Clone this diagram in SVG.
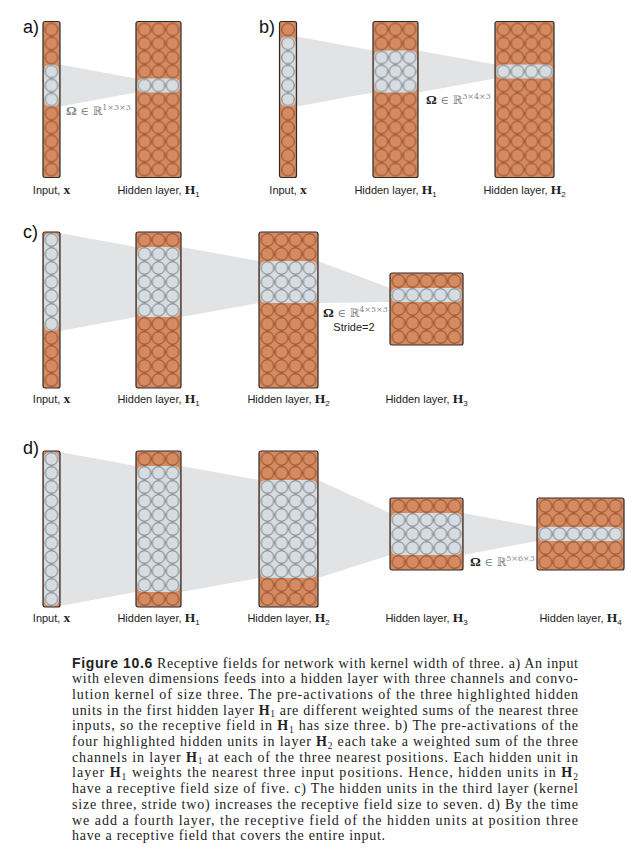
<svg xmlns="http://www.w3.org/2000/svg" width="643" height="862" viewBox="0 0 643 862">
<defs>
<pattern id="oc" x="1.5" y="1" width="14" height="14" patternUnits="userSpaceOnUse"><circle cx="7" cy="7" r="6.3" fill="#d68a60" stroke="#7a3b1c" stroke-width="0.85"/></pattern>
<pattern id="gc" x="1.5" y="1" width="14" height="14" patternUnits="userSpaceOnUse"><circle cx="7" cy="7" r="6.3" fill="#d6dce0" stroke="#5d666b" stroke-width="0.85"/></pattern>
<style>
.box{fill:#d68a60;stroke:#2b2b2b;stroke-width:1.2}
.band{fill:#d6dce0}
.cone{fill:#e1e3e4}
.lbl{font-family:"Liberation Sans",Arial,sans-serif;font-size:11px;fill:#222;text-anchor:middle}
.mb{font-family:"Liberation Serif","Times New Roman",serif;font-weight:bold;font-size:13.5px}
.pl{font-family:"Liberation Sans",Arial,sans-serif;font-size:18px;fill:#111}
.om{font-family:"DejaVu Serif","DejaVu Sans",serif;font-size:11.5px;fill:#888}
.cap{font-family:"Liberation Serif","Times New Roman",serif;font-size:14px;fill:#222}
.capb{font-family:"Liberation Serif","Times New Roman",serif;font-weight:bold}
.fig{font-family:"Liberation Sans",Arial,sans-serif;font-weight:bold}
</style>
</defs>

<g id="connectors">
<polygon class="cone" points="60,64.5 136,78.5 136,92.5 60,106.5"/>
<polygon class="cone" points="296.5,36.5 373,50.5 373,92.5 296.5,106.5"/>
<polygon class="cone" points="418,50.5 495,64.5 495,78.5 418,92.5"/>
<polygon class="cone" points="60,233 136,247 136,317 60,331"/>
<polygon class="cone" points="181,247 259,261 259,303 181,317"/>
<polygon class="cone" points="318,261 390,288 390,302 318,303"/>
<polygon class="cone" points="60,452 136,466 136,592 60,606"/>
<polygon class="cone" points="181,466 259,480 259,578 181,592"/>
<polygon class="cone" points="318,480 390,513 390,555 318,578"/>
<polygon class="cone" points="463,513 537,527 537,541 463,555"/>
</g>

<!-- Panel a -->
<text class="pl" x="23" y="33">a)</text>
<g id="a-input" transform="translate(43,21.5)">
<rect class="box" width="17" height="156" rx="2"/>
<rect x="1.5" y="1" width="14" height="154" fill="url(#oc)"/>
<rect class="band" x="1" y="43" width="15" height="42" rx="6"/>
<rect x="1.5" y="43" width="14" height="42" fill="url(#gc)"/>
</g>
<g id="a-h1" transform="translate(136,21.5)">
<rect class="box" width="45" height="156" rx="2"/>
<rect x="1.5" y="1" width="42" height="154" fill="url(#oc)"/>
<rect class="band" x="1" y="57" width="43" height="14" rx="6"/>
<rect x="1.5" y="57" width="42" height="14" fill="url(#gc)"/>
</g>
<text class="om" x="66" y="115"><tspan class="mb" font-size="12">Ω</tspan> ∈ ℝ<tspan font-size="8" dy="-5">1×3×3</tspan></text>
<text class="lbl" x="51.5" y="194">Input, <tspan class="mb">x</tspan></text>
<text class="lbl" x="158.5" y="194">Hidden layer, <tspan class="mb">H</tspan><tspan font-size="8" dy="2.5">1</tspan></text>

<!-- Panel b -->
<text class="pl" x="259" y="33">b)</text>
<g id="b-input" transform="translate(279.5,21.5)">
<rect class="box" width="17" height="156" rx="2"/>
<rect x="1.5" y="1" width="14" height="154" fill="url(#oc)"/>
<rect class="band" x="1" y="15" width="15" height="70" rx="6"/>
<rect x="1.5" y="15" width="14" height="70" fill="url(#gc)"/>
</g>
<g id="b-h1" transform="translate(373,21.5)">
<rect class="box" width="45" height="156" rx="2"/>
<rect x="1.5" y="1" width="42" height="154" fill="url(#oc)"/>
<rect class="band" x="1" y="29" width="43" height="42" rx="6"/>
<rect x="1.5" y="29" width="42" height="42" fill="url(#gc)"/>
</g>
<g id="b-h2" transform="translate(495,21.5)">
<rect class="box" width="59" height="156" rx="2"/>
<rect x="1.5" y="1" width="56" height="154" fill="url(#oc)"/>
<rect class="band" x="1" y="43" width="57" height="14" rx="6"/>
<rect x="1.5" y="43" width="56" height="14" fill="url(#gc)"/>
</g>
<text class="om" x="426" y="104"><tspan class="mb" font-size="12" fill="#222">Ω</tspan> ∈ ℝ<tspan font-size="8" dy="-5">3×4×3</tspan></text>
<text class="lbl" x="288" y="194">Input, <tspan class="mb">x</tspan></text>
<text class="lbl" x="395.5" y="194">Hidden layer, <tspan class="mb">H</tspan><tspan font-size="8" dy="2.5">1</tspan></text>
<text class="lbl" x="524.5" y="194">Hidden layer, <tspan class="mb">H</tspan><tspan font-size="8" dy="2.5">2</tspan></text>

<!-- Panel c -->
<text class="pl" x="23" y="238">c)</text>
<g id="c-input" transform="translate(43,232)">
<rect class="box" width="17" height="156" rx="2"/>
<rect x="1.5" y="1" width="14" height="154" fill="url(#oc)"/>
<rect class="band" x="1" y="1" width="15" height="98" rx="6"/>
<rect x="1.5" y="1" width="14" height="98" fill="url(#gc)"/>
</g>
<g id="c-h1" transform="translate(136,232)">
<rect class="box" width="45" height="156" rx="2"/>
<rect x="1.5" y="1" width="42" height="154" fill="url(#oc)"/>
<rect class="band" x="1" y="15" width="43" height="70" rx="6"/>
<rect x="1.5" y="15" width="42" height="70" fill="url(#gc)"/>
</g>
<g id="c-h2" transform="translate(259,232)">
<rect class="box" width="59" height="156" rx="2"/>
<rect x="1.5" y="1" width="56" height="154" fill="url(#oc)"/>
<rect class="band" x="1" y="29" width="57" height="42" rx="6"/>
<rect x="1.5" y="29" width="56" height="42" fill="url(#gc)"/>
</g>
<g id="c-h3" transform="translate(390,273)">
<rect class="box" width="73" height="72" rx="2"/>
<rect x="1.5" y="1" width="70" height="70" fill="url(#oc)"/>
<rect class="band" x="1" y="15" width="71" height="14" rx="6"/>
<rect x="1.5" y="15" width="70" height="14" fill="url(#gc)"/>
</g>
<text class="om" x="323" y="317"><tspan class="mb" font-size="12" fill="#222">Ω</tspan> ∈ ℝ<tspan font-size="8" dy="-5">4×5×3</tspan></text>
<text class="lbl" x="354" y="331">Stride=2</text>
<text class="lbl" x="51.5" y="403">Input, <tspan class="mb">x</tspan></text>
<text class="lbl" x="158.5" y="403">Hidden layer, <tspan class="mb">H</tspan><tspan font-size="8" dy="2.5">1</tspan></text>
<text class="lbl" x="288.5" y="403">Hidden layer, <tspan class="mb">H</tspan><tspan font-size="8" dy="2.5">2</tspan></text>
<text class="lbl" x="426.5" y="403">Hidden layer, <tspan class="mb">H</tspan><tspan font-size="8" dy="2.5">3</tspan></text>

<!-- Panel d -->
<text class="pl" x="23" y="454">d)</text>
<g id="d-input" transform="translate(43,451)">
<rect class="box" width="17" height="156" rx="2"/>
<rect class="band" x="1" y="1" width="15" height="154" rx="6"/>
<rect x="1.5" y="1" width="14" height="154" fill="url(#gc)"/>
</g>
<g id="d-h1" transform="translate(136,451)">
<rect class="box" width="45" height="156" rx="2"/>
<rect x="1.5" y="1" width="42" height="154" fill="url(#oc)"/>
<rect class="band" x="1" y="15" width="43" height="126" rx="6"/>
<rect x="1.5" y="15" width="42" height="126" fill="url(#gc)"/>
</g>
<g id="d-h2" transform="translate(259,451)">
<rect class="box" width="59" height="156" rx="2"/>
<rect x="1.5" y="1" width="56" height="154" fill="url(#oc)"/>
<rect class="band" x="1" y="29" width="57" height="98" rx="6"/>
<rect x="1.5" y="29" width="56" height="98" fill="url(#gc)"/>
</g>
<g id="d-h3" transform="translate(390,498)">
<rect class="box" width="73" height="72" rx="2"/>
<rect x="1.5" y="1" width="70" height="70" fill="url(#oc)"/>
<rect class="band" x="1" y="15" width="71" height="42" rx="6"/>
<rect x="1.5" y="15" width="70" height="42" fill="url(#gc)"/>
</g>
<g id="d-h4" transform="translate(537,498)">
<rect class="box" width="87" height="72" rx="2"/>
<rect x="1.5" y="1" width="84" height="70" fill="url(#oc)"/>
<rect class="band" x="1" y="29" width="85" height="14" rx="6"/>
<rect x="1.5" y="29" width="84" height="14" fill="url(#gc)"/>
</g>
<text class="om" x="470" y="566"><tspan class="mb" font-size="12" fill="#222">Ω</tspan> ∈ ℝ<tspan font-size="8" dy="-5">5×6×3</tspan></text>
<text class="lbl" x="51.5" y="622">Input, <tspan class="mb">x</tspan></text>
<text class="lbl" x="158.5" y="622">Hidden layer, <tspan class="mb">H</tspan><tspan font-size="8" dy="2.5">1</tspan></text>
<text class="lbl" x="288.5" y="622">Hidden layer, <tspan class="mb">H</tspan><tspan font-size="8" dy="2.5">2</tspan></text>
<text class="lbl" x="426.5" y="622">Hidden layer, <tspan class="mb">H</tspan><tspan font-size="8" dy="2.5">3</tspan></text>
<text class="lbl" x="580.5" y="622">Hidden layer, <tspan class="mb">H</tspan><tspan font-size="8" dy="2.5">4</tspan></text>

<!-- Caption -->
<g id="caption">
<text class="cap" x="72" y="667.5" textLength="506" lengthAdjust="spacing"><tspan class="fig">Figure 10.6</tspan> Receptive fields for network with kernel width of three. a) An input</text>
<text class="cap" x="72" y="683.2" textLength="506" lengthAdjust="spacing">with eleven dimensions feeds into a hidden layer with three channels and convo-</text>
<text class="cap" x="72" y="698.9" textLength="506" lengthAdjust="spacing">lution kernel of size three. The pre-activations of the three highlighted hidden</text>
<text class="cap" x="72" y="714.6" textLength="506" lengthAdjust="spacing">units in the first hidden layer <tspan class="capb">H</tspan><tspan font-size="9.5" dy="2.5">1</tspan><tspan dy="-2.5"> are different weighted sums of the nearest three</tspan></text>
<text class="cap" x="72" y="730.3" textLength="506" lengthAdjust="spacing">inputs, so the receptive field in <tspan class="capb">H</tspan><tspan font-size="9.5" dy="2.5">1</tspan><tspan dy="-2.5"> has size three. b) The pre-activations of the</tspan></text>
<text class="cap" x="72" y="746" textLength="506" lengthAdjust="spacing">four highlighted hidden units in layer <tspan class="capb">H</tspan><tspan font-size="9.5" dy="2.5">2</tspan><tspan dy="-2.5"> each take a weighted sum of the three</tspan></text>
<text class="cap" x="72" y="761.7" textLength="506" lengthAdjust="spacing">channels in layer <tspan class="capb">H</tspan><tspan font-size="9.5" dy="2.5">1</tspan><tspan dy="-2.5"> at each of the three nearest positions. Each hidden unit in</tspan></text>
<text class="cap" x="72" y="777.4" textLength="506" lengthAdjust="spacing">layer <tspan class="capb">H</tspan><tspan font-size="9.5" dy="2.5">1</tspan><tspan dy="-2.5"> weights the nearest three input positions. Hence, hidden units in </tspan><tspan class="capb">H</tspan><tspan font-size="9.5" dy="2.5">2</tspan></text>
<text class="cap" x="72" y="793.1" textLength="506" lengthAdjust="spacing">have a receptive field size of five. c) The hidden units in the third layer (kernel</text>
<text class="cap" x="72" y="808.8" textLength="506" lengthAdjust="spacing">size three, stride two) increases the receptive field size to seven. d) By the time</text>
<text class="cap" x="72" y="824.5" textLength="506" lengthAdjust="spacing">we add a fourth layer, the receptive field of the hidden units at position three</text>
<text class="cap" x="72" y="840.2" textLength="313" lengthAdjust="spacing">have a receptive field that covers the entire input.</text>
</g>
</svg>
